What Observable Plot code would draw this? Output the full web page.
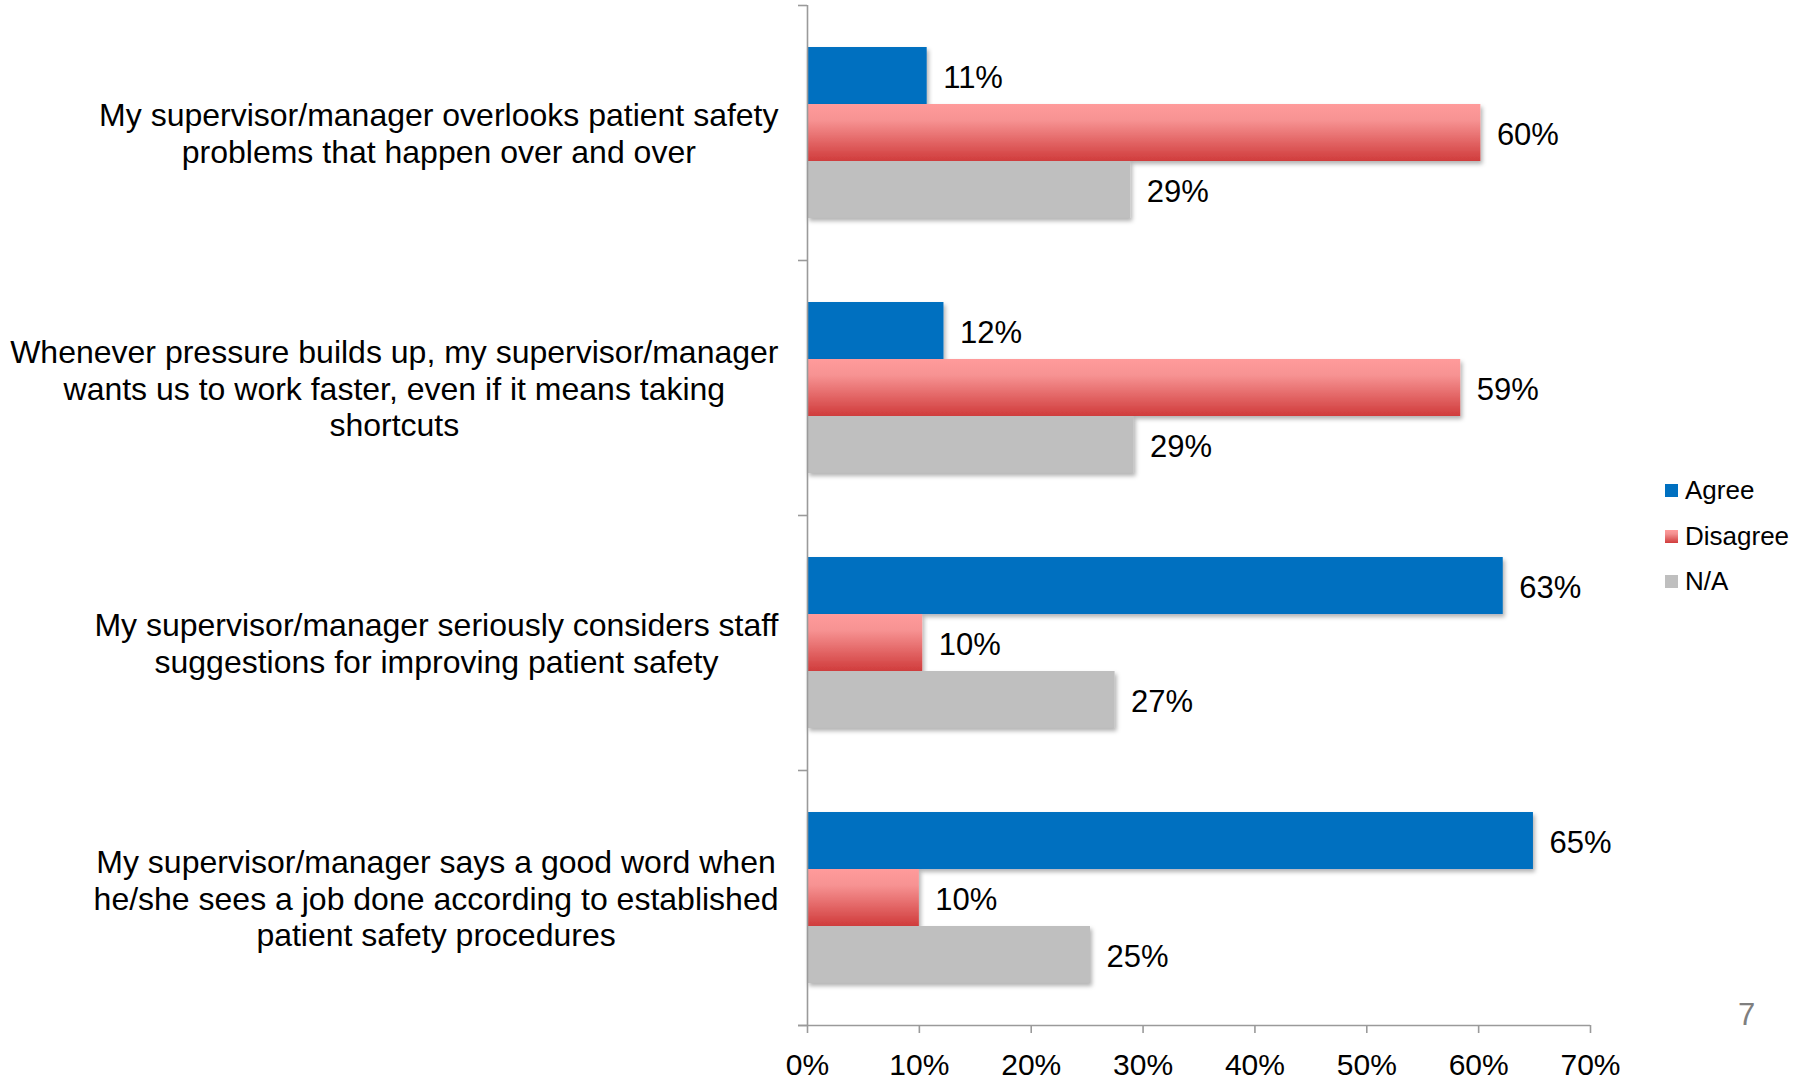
<!DOCTYPE html>
<html>
<head>
<meta charset="utf-8">
<script src="https://cdn.jsdelivr.net/npm/d3@7"></script>
<script src="https://cdn.jsdelivr.net/npm/@observablehq/plot@0.6"></script>
<style>
  body { margin: 0; background: #fff; font-family: 'Liberation Sans', Arial, sans-serif; }
  #wrap { position: relative; width: 1808px; height: 1080px; overflow: hidden; }
  #legend { position: absolute; left: 1665px; top: 468px; font-size: 26px; color: #000; }
  #legend .row { display: flex; align-items: center; height: 45.5px; }
  #legend .sw { width: 13px; height: 13px; margin-right: 7px; }
  #page { position: absolute; left: 1738px; top: 999px; font-size: 31px; line-height: 1; color: #7f7f7f; }
</style>
</head>
<body>
<div id="wrap"></div>
<script>
// ---- data ----
const questions = [
  "My supervisor/manager overlooks patient safety\nproblems that happen over and over",
  "Whenever pressure builds up, my supervisor/manager\nwants us to work faster, even if it means taking\nshortcuts",
  "My supervisor/manager seriously considers staff\nsuggestions for improving patient safety",
  "My supervisor/manager says a good word when\nhe/she sees a job done according to established\npatient safety procedures"
];
const series = ["Agree", "Disagree", "N/A"];
const agreeValues    = [10.7, 12.2, 62.2, 64.9];
const disagreeValues = [60.2, 58.4, 10.3, 10.0];
const naValues       = [28.9, 29.2, 27.5, 25.3];
const agreeLabels    = ["11%", "12%", "63%", "65%"];
const disagreeLabels = ["60%", "59%", "10%", "10%"];
const naLabels       = ["29%", "29%", "27%", "25%"];
const xTicks = [0, 0.1, 0.2, 0.3, 0.4, 0.5, 0.6, 0.7];
const pageNumber = "7";

// ---- layout ----
const W = 1808, H = 1080, mT = 5, mB = 55, mL = 807, mR = 218;
const step = (H - mT - mB) / questions.length;
const barH = step * 0.2235;
const gap0 = (step - 3 * barH) / 2;
const fontFamily = "'Liberation Sans', Arial, sans-serif";
const axisColor = "#9a9a9a";
const colors = ["#0070C0", "url(#disagreeGrad)", "#BFBFBF"];
const swatchCss = ["#0070C0", "linear-gradient(#ff9b9b 0%, #f39090 30%, #d03c3c 100%)", "#BFBFBF"];

const valuesBySeries = [agreeValues, disagreeValues, naValues];
const labelsBySeries = [agreeLabels, disagreeLabels, naLabels];
const rows = series.flatMap((s, j) => questions.map((q, i) => ({
  question: q, series: s, value: valuesBySeries[j][i] / 100, label: labelsBySeries[j][i]
})));

// measure widest line of each category label
const ctx = document.createElement("canvas").getContext("2d");
const catFont = 32;
ctx.font = `${catFont}px ${fontFamily}`;
const widths = questions.map(q => d3.max(q.split("\n"), l => ctx.measureText(l).width));

const chart = Plot.plot({
  width: W, height: H,
  marginTop: mT, marginBottom: mB, marginLeft: mL, marginRight: mR,
  style: { fontFamily, fontSize: "30px", color: "#000", background: "#fff", overflow: "visible" },
  x: { domain: [0, 0.7] },
  y: { domain: questions, padding: 0, axis: null },
  marks: [
    ...series.map((s, j) => Plot.barX(rows.filter(r => r.series === s), {
      y: "question", x: "value", fill: colors[j],
      insetTop: gap0 + j * barH, insetBottom: step - gap0 - (j + 1) * barH
    })),
    ...series.map((s, j) => Plot.text(rows.filter(r => r.series === s), {
      y: "question", x: "value", text: "label", dx: 16, dy: (j - 1) * barH + 2,
      textAnchor: "start", fontSize: 31, fill: "#000"
    })),
    ...questions.map((q, i) => Plot.text([q], {
      y: d => d, text: d => d, frameAnchor: "left", textAnchor: "middle",
      dx: -(29 + widths[i] / 2), fontSize: catFont, lineHeight: 1.14, fill: "#000"
    })),
    Plot.ruleX([0], { stroke: axisColor, strokeWidth: 1.6 }),
    Plot.ruleY(questions, { y: d => d, x1: 0, x2: 0, insetLeft: -9, dy: step / 2, stroke: axisColor, strokeWidth: 1.6 }),
    Plot.ruleY([questions[0]], { y: d => d, x1: 0, x2: 0, insetLeft: -9, dy: -step / 2, stroke: axisColor, strokeWidth: 1.6 }),
    Plot.ruleY([questions[questions.length - 1]], { y: d => d, x1: 0, x2: 0.7, insetLeft: -9, dy: step / 2, stroke: axisColor, strokeWidth: 1.6 }),
    Plot.axisX({ ticks: xTicks, tickFormat: d3.format(".0%"), tickSize: 8, tickPadding: 20,
      fontSize: 30, stroke: axisColor, strokeWidth: 1.6, fill: "#000", label: null })
  ]
});

// gradient + shadow defs
const svg = d3.select(chart);
const defs = svg.insert("defs", ":first-child");
const grad = defs.append("linearGradient").attr("id", "disagreeGrad")
  .attr("x1", 0).attr("y1", 0).attr("x2", 0).attr("y2", 1);
grad.append("stop").attr("offset", "0%").attr("stop-color", "#ff9b9b");
grad.append("stop").attr("offset", "28%").attr("stop-color", "#f79393");
grad.append("stop").attr("offset", "100%").attr("stop-color", "#d03c3c");
const filt = defs.append("filter").attr("id", "shadow")
  .attr("x", "-5%").attr("y", "-20%").attr("width", "110%").attr("height", "160%");
filt.append("feDropShadow").attr("dx", 2).attr("dy", 3).attr("stdDeviation", 2)
  .attr("flood-color", "#000").attr("flood-opacity", 0.3);
svg.selectAll('g[aria-label="bar"] rect').attr("filter", "url(#shadow)");

const wrap = document.getElementById("wrap");
wrap.appendChild(chart);

// legend
const legend = document.createElement("div");
legend.id = "legend";
series.forEach((s, j) => {
  const row = document.createElement("div");
  row.className = "row";
  const sw = document.createElement("div");
  sw.className = "sw";
  sw.style.background = swatchCss[j];
  const t = document.createElement("span");
  t.textContent = s;
  row.appendChild(sw); row.appendChild(t);
  legend.appendChild(row);
});
wrap.appendChild(legend);

const page = document.createElement("div");
page.id = "page";
page.textContent = pageNumber;
wrap.appendChild(page);
</script>
</body>
</html>
